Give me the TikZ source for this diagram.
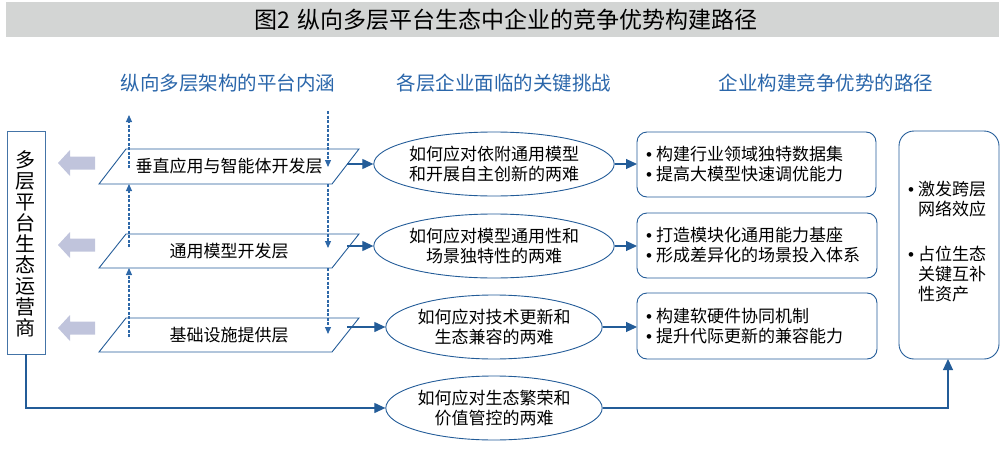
\documentclass[tikz,border=0pt]{standalone}
\usepackage{fontspec}
\setmainfont{Noto Sans CJK SC}
\newfontfamily\bulletfont{Liberation Sans}
\newcommand{\mybul}{{\bulletfont\char"2022}\hspace{4pt}}
\newcommand{\mybulsp}{\phantom{\mybul}}
\usetikzlibrary{arrows.meta,shapes.geometric}
\definecolor{lineblue}{HTML}{235C98}
\definecolor{headblue}{HTML}{2A66AA}
\definecolor{dashblue}{HTML}{2E68A8}
\definecolor{bandgray}{HTML}{D3D5D4}
\definecolor{arrgray}{HTML}{C0C4DC}
\begin{document}
\begin{tikzpicture}[x=1pt,y=-1pt,
  layerbox/.style={draw=lineblue,line width=0.9pt},
  layertext/.style={font=\fontsize{17}{20}\selectfont},
  headtext/.style={text=headblue,font=\fontsize{19.5}{22}\selectfont},
  dilemma/.style={ellipse,draw=lineblue,line width=0.9pt,minimum width=208pt,minimum height=64pt,inner sep=0pt,align=center,font=\fontsize{17}{20}\selectfont},
  pathbox/.style={draw=lineblue,line width=0.9pt,rounded corners=10pt},
  boxtext/.style={anchor=west,align=left,font=\fontsize{17}{20}\selectfont,inner sep=0pt},
  solidarrow/.style={draw=lineblue,line width=1.1pt,-{Triangle[length=11pt,width=10pt]}},
  dasharrow/.style={draw=dashblue,line width=1.1pt,dash pattern=on 3pt off 1.5pt,-{Triangle[length=7pt,width=6pt]}},
  grayarrow/.style={fill=arrgray,draw=none}
]
\useasboundingbox (0,0) rectangle (1005,466);
% title band
\fill[bandgray] (6,2) rectangle (999,36.6);
\node[font=\fontsize{23}{26}\selectfont] (title) at (506,19.5) {图2\,\,纵向多层平台生态中企业的竞争优势构建路径};
% headers
\node[headtext] (h1) at (228,83) {纵向多层架构的平台内涵};
\node[headtext] (h2) at (504,83) {各层企业面临的关键挑战};
\node[headtext] (h3) at (826,83) {企业构建竞争优势的路径};
% left operator box
\draw[draw=lineblue!85,line width=0.9pt] (7,131) rectangle (45,354);
\node[align=center,font=\fontsize{20}{21}\selectfont,inner sep=0pt] (op) at (26,244) {多\\层\\平\\台\\生\\态\\运\\营\\商};
\coordinate (opS) at (26,354);
% layers (parallelograms)
\draw[layerbox] (126,149) -- (359,149) -- (332,184) -- (99,184) -- cycle;
\draw[layerbox] (126,234) -- (359,234) -- (332,268) -- (99,268) -- cycle;
\draw[layerbox] (126,318) -- (359,318) -- (332,352) -- (99,352) -- cycle;
\node[layertext] (L1) at (229,166) {垂直应用与智能体开发层};
\node[layertext] (L2) at (229,251) {通用模型开发层};
\node[layertext] (L3) at (229,335) {基础设施提供层};
% gray left arrows
\foreach \yy in {163,245,328}{
  \fill[grayarrow] (58,\yy) -- (70,\yy-13) -- (70,\yy-6.5) -- (95,\yy-6.5) -- (95,\yy+6.5) -- (70,\yy+6.5) -- (70,\yy+13) -- cycle;
}
% dashed arrows coordinates
\coordinate (u1a) at (129,168); \coordinate (u1b) at (129,115);
\coordinate (u2a) at (129,247); \coordinate (u2b) at (129,184);
\coordinate (u3a) at (129,337); \coordinate (u3b) at (129,268);
\coordinate (d1a) at (328,111); \coordinate (d1b) at (328,167);
\coordinate (d2a) at (328,184); \coordinate (d2b) at (328,248);
\coordinate (d3a) at (328,268); \coordinate (d3b) at (328,334);
\draw[dasharrow] (u1a) -- (u1b);
\draw[dasharrow] (u2a) -- (u2b);
\draw[dasharrow] (u3a) -- (u3b);
\draw[dasharrow] (d1a) -- (d1b);
\draw[dasharrow] (d2a) -- (d2b);
\draw[dasharrow] (d3a) -- (d3b);
% dilemmas
\node[dilemma] (e1) at (494,164) {如何应对依附通用模型\\和开展自主创新的两难};
\node[dilemma] (e2) at (494,246) {如何应对模型通用性和\\场景独特性的两难};
\node[dilemma] (e3) at (494,327) {如何应对技术更新和\\生态兼容的两难};
\node[dilemma] (e4) at (494,408) {如何应对生态繁荣和\\价值管控的两难};
% layer to dilemma arrows
\coordinate (r1) at (347,164);
\coordinate (r2) at (347,246);
\coordinate (r3) at (347,327);
\draw[solidarrow] (r1) -- (e1.west);
\draw[solidarrow] (r2) -- (e2.west);
\draw[solidarrow] (r3) -- (e3.west);
% path boxes
\draw[pathbox] (637,132) rectangle (876,197);
\draw[pathbox] (637,213) rectangle (877,278);
\draw[pathbox] (637,293) rectangle (877,359);
\coordinate (b1) at (637,164);
\coordinate (b2) at (637,246);
\coordinate (b3) at (637,327);
\node[boxtext] (t1) at (646,164.5) {\mybul 构建行业领域独特数据集\\\mybul 提高大模型快速调优能力};
\node[boxtext] (t2) at (646,245.5) {\mybul 打造模块化通用能力基座\\\mybul 形成差异化的场景投入体系};
\node[boxtext] (t3) at (646,326.5) {\mybul 构建软硬件协同机制\\\mybul 提升代际更新的兼容能力};
\draw[solidarrow] (e1.east) -- (b1);
\draw[solidarrow] (e2.east) -- (b2);
\draw[solidarrow] (e3.east) -- (b3);
% right box
\draw[pathbox,rounded corners=15pt] (899,131) rectangle (999,359);
\coordinate (rbS) at (948,359);
\node[boxtext,anchor=north west] (t4) at (908,181) {\mybul 激发跨层\\\mybulsp 网络效应};
\node[boxtext,anchor=north west] (t5) at (908,246) {\mybul 占位生态\\\mybulsp 关键互补\\\mybulsp 性资产};
% bottom loop
\draw[solidarrow] (opS) |- (e4.west);
\draw[solidarrow] (e4.east) -| (rbS);
\end{tikzpicture}
\end{document}
